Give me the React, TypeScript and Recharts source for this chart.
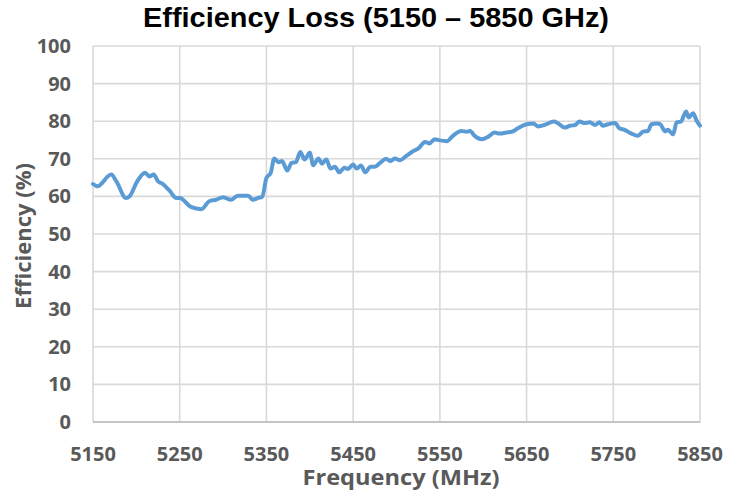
import React from 'react';
import { LineChart, Line, XAxis, YAxis, CartesianGrid } from 'recharts';

const frequencyMHz = [
  5150, 5155, 5171, 5177, 5188, 5192, 5201, 5210, 5215, 5220, 5225, 5230, 5238, 5246, 5250,
  5263, 5275, 5284, 5292, 5300, 5309, 5317, 5329, 5334, 5342, 5345, 5350, 5355, 5359, 5364,
  5368, 5374, 5379, 5384, 5389, 5394, 5400, 5404, 5410, 5414, 5419, 5424, 5429, 5434, 5440,
  5444, 5450, 5454, 5459, 5464, 5470, 5475, 5481, 5488, 5493, 5498, 5504, 5511, 5519, 5525,
  5533, 5538, 5544, 5550, 5558, 5565, 5575, 5581, 5585, 5590, 5598, 5606, 5613, 5619, 5627,
  5633, 5640, 5650, 5658, 5663, 5673, 5681, 5686, 5694, 5700, 5706, 5711, 5717, 5723, 5729,
  5734, 5738, 5744, 5752, 5757, 5763, 5771, 5778, 5785, 5790, 5794, 5800, 5804, 5810, 5813,
  5819, 5823, 5828, 5834, 5837, 5842, 5846, 5850,
];

const efficiencyPct = [
  63.3, 62.7, 65.8, 64.0, 59.6, 60.0, 64.0, 66.3, 65.3, 65.8, 64.0, 63.4, 61.6, 59.6, 59.6,
  57.2, 56.6, 58.7, 59.1, 59.8, 59.1, 60.2, 60.2, 59.1, 59.7, 59.8, 64.9, 66.3, 70.1, 69.1,
  69.4, 66.9, 68.9, 69.1, 71.8, 69.8, 71.6, 68.3, 70.1, 68.7, 69.8, 67.4, 67.9, 66.4, 67.6,
  67.3, 68.5, 67.4, 68.2, 66.4, 67.9, 67.9, 68.9, 70.0, 69.4, 70.1, 69.6, 70.7, 72.0, 72.7,
  74.5, 74.1, 75.2, 74.9, 74.7, 76.1, 77.4, 77.2, 77.4, 76.1, 75.2, 75.9, 77.0, 76.7, 77.0,
  77.2, 78.1, 79.2, 79.4, 78.6, 79.2, 79.9, 79.5, 78.3, 78.8, 79.0, 79.9, 79.5, 79.7, 79.0,
  79.7, 78.8, 79.2, 79.5, 78.1, 77.7, 76.7, 76.1, 77.3, 77.4, 79.2, 79.4, 79.2, 77.3, 77.7,
  76.5, 79.7, 79.9, 82.6, 81.0, 82.1, 80.2, 78.8,
];

const xTicks = [5150, 5250, 5350, 5450, 5550, 5650, 5750, 5850];
const yTicks = [0, 10, 20, 30, 40, 50, 60, 70, 80, 90, 100];

const chartTitle = 'Efficiency Loss (5150 – 5850 GHz)';
const xTitle = 'Frequency (MHz)';
const yTitle = 'Efficiency (%)';

const data = frequencyMHz.map((f, i) => ({ freq: f, eff: efficiencyPct[i] }));

const TICK_COLOR = '#595959';
const LABEL_FONT = '"Open Sans", "DejaVu Sans", sans-serif';

const XTick = (props: any) => {
  const { x, y, payload } = props;
  return (
    <text x={x} y={y} dy={39} textAnchor="middle" fill={TICK_COLOR}
      fontFamily={LABEL_FONT} fontWeight={700} fontSize={20}>
      {payload.value}
    </text>
  );
};

const YTick = (props: any) => {
  const { x, y, payload } = props;
  return (
    <text x={x - 22} y={y} dy={7} textAnchor="end" fill={TICK_COLOR}
      fontFamily={LABEL_FONT} fontWeight={700} fontSize={20}>
      {payload.value}
    </text>
  );
};

export default function App() {
  return (
    <div style={{ position: 'absolute', left: 0, top: 0, width: 739, height: 499, background: '#ffffff' }}>
      <LineChart width={739} height={499} data={data}
        margin={{ top: 46, right: 39, left: 0, bottom: 17 }}>
        <CartesianGrid stroke="#d9d9d9" strokeWidth={1.6} />
        <XAxis dataKey="freq" type="number" domain={[5150, 5850]} ticks={xTicks}
          interval={0} height={60} tickSize={0} tickMargin={0} tickLine={false}
          axisLine={{ stroke: '#c4c4c4', strokeWidth: 2 }} tick={<XTick />} />
        <YAxis type="number" domain={[0, 100]} ticks={yTicks} interval={0} width={93}
          tickSize={0} tickMargin={0} tickLine={false} axisLine={false} tick={<YTick />} />
        <Line type="monotone" dataKey="eff" stroke="#5b9bd5" strokeWidth={4}
          dot={false} isAnimationActive={false} strokeLinejoin="round" strokeLinecap="round" />
      </LineChart>
      <svg width={739} height={499} style={{ position: 'absolute', left: 0, top: 0, pointerEvents: 'none' }}>
        <text x={376} y={27} textAnchor="middle" fontFamily='"Liberation Sans", Arial, sans-serif'
          fontWeight={700} fontSize={27} fill="#000000" textLength={466} lengthAdjust="spacingAndGlyphs">
          {chartTitle}
        </text>
        <text x={401} y={485} textAnchor="middle" fontFamily={LABEL_FONT} fontWeight={700}
          fontSize={22} fill={TICK_COLOR} textLength={197} lengthAdjust="spacingAndGlyphs">
          {xTitle}
        </text>
        <text transform="translate(31,236) rotate(-90)" textAnchor="middle" fontFamily={LABEL_FONT}
          fontWeight={700} fontSize={22} fill={TICK_COLOR}>
          {yTitle}
        </text>
      </svg>
    </div>
  );
}
